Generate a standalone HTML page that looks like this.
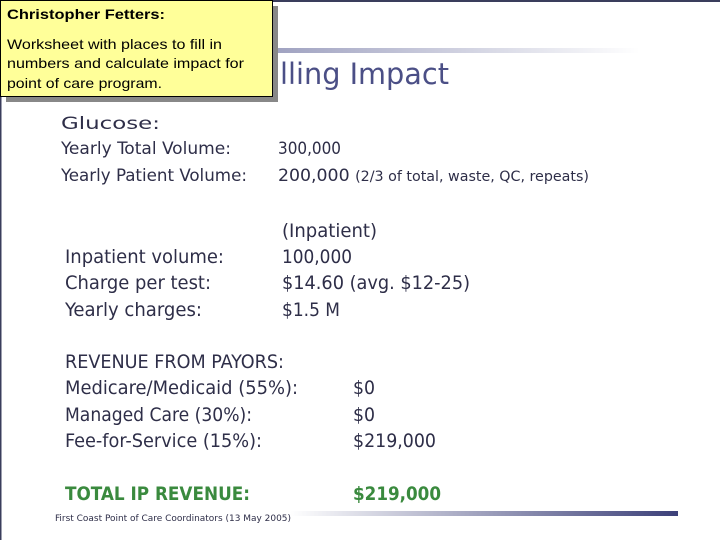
<!DOCTYPE html>
<html><head><meta charset="utf-8"><style>
html,body{margin:0;padding:0;background:#fff;}
svg{display:block;font-family:"DejaVu Sans Condensed","DejaVu Sans","Liberation Sans",sans-serif;}
</style></head><body>
<svg width="720" height="540" viewBox="0 0 720 540">
<defs>
<linearGradient id="topg" x1="0" x2="1" y1="0" y2="0"><stop offset="0" stop-color="#8c8fb4"/><stop offset="1" stop-color="#ffffff"/></linearGradient>
<linearGradient id="botg" x1="0" x2="1" y1="0" y2="0"><stop offset="0" stop-color="#ffffff"/><stop offset="1" stop-color="#3c4079"/></linearGradient>
</defs>
<rect x="0" y="0" width="720" height="2" fill="#3a3d5c"/>
<rect x="0" y="0" width="1.5" height="540" fill="#3a3d5c"/>
<rect x="200" y="48" width="440" height="5" fill="url(#topg)"/>
<text x="280" y="84" font-size="29" fill="#4b4f86" textLength="169" lengthAdjust="spacingAndGlyphs">lling Impact</text>

<g fill="#2e2e48" font-size="17">
<text x="61" y="129" textLength="99" lengthAdjust="spacingAndGlyphs">Glucose:</text>
<text x="61" y="154" textLength="170" lengthAdjust="spacingAndGlyphs">Yearly Total Volume:</text>
<text x="61" y="181" textLength="186" lengthAdjust="spacingAndGlyphs">Yearly Patient Volume:</text>
<text x="278" y="154" textLength="63" lengthAdjust="spacingAndGlyphs">300,000</text>
<text x="278" y="181" textLength="311" lengthAdjust="spacingAndGlyphs">200,000 <tspan font-size="14">(2/3 of total, waste, QC, repeats)</tspan></text>
</g>

<g fill="#2e2e48" font-size="19">
<text x="282" y="237" textLength="95" lengthAdjust="spacingAndGlyphs">(Inpatient)</text>
<text x="65" y="263" textLength="159" lengthAdjust="spacingAndGlyphs">Inpatient volume:</text>
<text x="65" y="289" textLength="146" lengthAdjust="spacingAndGlyphs">Charge per test:</text>
<text x="65" y="316" textLength="137" lengthAdjust="spacingAndGlyphs">Yearly charges:</text>
<text x="282" y="263" textLength="70" lengthAdjust="spacingAndGlyphs">100,000</text>
<text x="282" y="289" textLength="188" lengthAdjust="spacingAndGlyphs">$14.60  (avg. $12-25)</text>
<text x="282" y="316" textLength="58" lengthAdjust="spacingAndGlyphs">$1.5 M</text>
</g>

<g fill="#2e2e48" font-size="19">
<text x="65" y="368" textLength="219" lengthAdjust="spacingAndGlyphs">REVENUE FROM PAYORS:</text>
<text x="65" y="394" textLength="233" lengthAdjust="spacingAndGlyphs">Medicare/Medicaid (55%):</text>
<text x="65" y="421" textLength="187" lengthAdjust="spacingAndGlyphs">Managed Care (30%):</text>
<text x="65" y="447" textLength="197" lengthAdjust="spacingAndGlyphs">Fee-for-Service (15%):</text>
<text x="353" y="394" textLength="22" lengthAdjust="spacingAndGlyphs">$0</text>
<text x="353" y="421" textLength="22" lengthAdjust="spacingAndGlyphs">$0</text>
<text x="353" y="447" textLength="83" lengthAdjust="spacingAndGlyphs">$219,000</text>
</g>

<g fill="#3a8a3e" font-size="19" font-weight="bold">
<text x="65" y="500" textLength="185" lengthAdjust="spacingAndGlyphs">TOTAL IP REVENUE:</text>
<text x="353" y="500" textLength="88" lengthAdjust="spacingAndGlyphs">$219,000</text>
</g>

<rect x="290" y="511" width="388" height="5" fill="url(#botg)"/>
<text x="55" y="521" font-size="9" fill="#2e2e48" textLength="236" lengthAdjust="spacingAndGlyphs">First Coast Point of Care Coordinators (13 May 2005)</text>

<g>
<rect x="6" y="6" width="272" height="96" fill="#888"/>
<rect x="0.5" y="0.5" width="272" height="96" fill="#ffff99" stroke="#000" stroke-width="1"/>
<g font-family="Liberation Sans, sans-serif" fill="#000" font-size="14">
<text x="7" y="19" font-weight="bold" textLength="158" lengthAdjust="spacingAndGlyphs">Christopher Fetters:</text>
<text x="7" y="49" textLength="215" lengthAdjust="spacingAndGlyphs">Worksheet with places to fill in</text>
<text x="7" y="68" textLength="237" lengthAdjust="spacingAndGlyphs">numbers and calculate impact for</text>
<text x="7" y="88" textLength="155" lengthAdjust="spacingAndGlyphs">point of care program.</text>
</g>
</g>
</svg>
</body></html>
